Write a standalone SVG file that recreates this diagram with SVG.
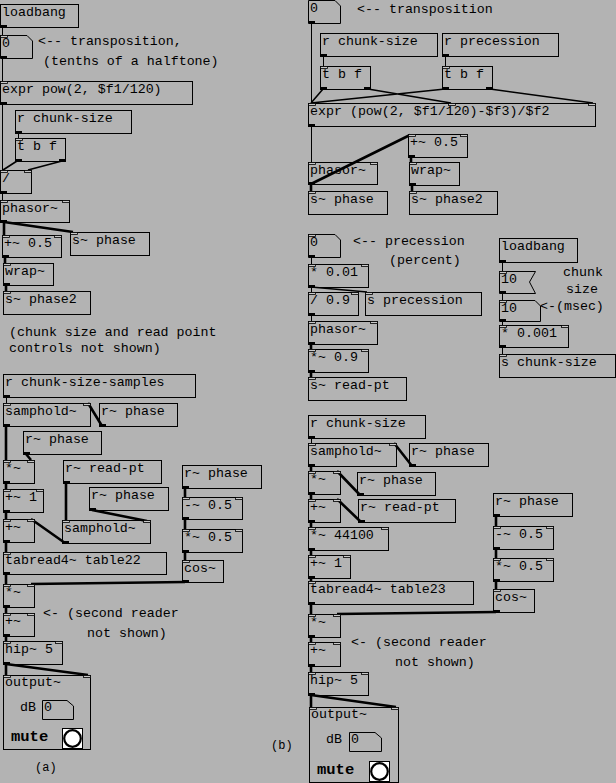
<svg xmlns="http://www.w3.org/2000/svg" width="616" height="783" viewBox="0 0 616 783">
<style>
.bg{fill:#b3b3b3}
.b{fill:none;stroke:#000;stroke-width:1}
.t{font-family:"Liberation Mono","DejaVu Sans Mono",monospace;font-size:13.3px;fill:#000}
.m{font-family:"Liberation Mono","DejaVu Sans Mono",monospace;font-size:15.5px;font-weight:bold;fill:#000}
.l{font-family:"Liberation Mono","DejaVu Sans Mono",monospace;font-size:12px;fill:#000}
.i{fill:#c8c8c8;stroke:#000;stroke-width:0.8}
.o{fill:#000}
.c{fill:none;stroke:#000;stroke-width:1}
.d{fill:none;stroke:#000;stroke-width:1.6}
.s{fill:none;stroke:#000;stroke-width:2.6}
.tg{fill:#fff;stroke:#000;stroke-width:1}
.tc{fill:#fff;stroke:#000;stroke-width:2.2}
</style>
<rect class="bg" x="0" y="0" width="616" height="783"/>

<g id="connectors">
<path class="c" d="M2.5,27V35M2.5,58V81M2.5,104V170M18.5,133V138M2.5,193V200"/>
<path class="d" d="M17,161L3,170M62,161L28,170"/>
<path class="s" d="M4,222V235M4,222L73,232M5,257V263M6,285V291"/>
<path class="c" d="M6.5,397V403"/>
<path class="s" d="M6,426V460M102,426L88,403M26,454L31,460M6,483V489M6,512V519M66,483V520M92,510L147,521M65,543L31,519M6,542V552M6,575V584M185,488V497M185,519V529M185,552V560M185,582L31,584M6,607V613M6,636V641M6,664V675M6,664L88,675"/>
<path class="c" d="M311.5,23V103M323.5,56V66M445.5,56V66M311.5,126V162"/>
<path class="d" d="M323,89L311,103M368,89L451,103M445,89L311,103M490,89L593,103"/>
<path class="s" d="M311,184V191M311,184L410,135M411,157V162M412,185V191"/>
<path class="c" d="M311.5,257V264M311.5,287V292M311.5,315V321M502.5,262V271M502.5,293V300M502.5,321V325M502.5,347V354"/>
<path class="d" d="M311,287L367,292"/>
<path class="s" d="M311,344V349M311,372V377"/>
<path class="c" d="M311.5,438V443"/>
<path class="s" d="M311,466V471M412,466L394,443M360,495L337,471M311,494V499M361,522L337,499M311,522V527M311,550V555M311,578V581M311,604V614M496,516V526M496,549V558M496,581V589M496,612L337,614M311,637V642M311,666V672M311,695V707M311,695L396,707"/>
</g>

<g id="a-loadbang"><rect class="b" x="0.5" y="4.5" width="78" height="23"/><text class="t" x="2" y="16">loadbang</text><rect class="o" x="0" y="25" width="7" height="2"/></g>
<g id="a-num-transp"><polygon class="b" points="0.5,35.5 27,35.5 32.5,41 32.5,58.5 0.5,58.5"/><text class="t" x="2" y="47">0</text><rect class="i" x="0.5" y="35.5" width="7" height="2"/><rect class="o" x="0" y="56" width="7" height="2"/></g>
<g id="a-expr"><rect class="b" x="0.5" y="81.5" width="192" height="23"/><text class="t" x="2" y="93">expr pow(2, $f1/120)</text><rect class="i" x="0.5" y="81.5" width="7" height="2"/><rect class="o" x="0" y="102" width="7" height="2"/></g>
<g id="a-r-chunk"><rect class="b" x="15.5" y="110.5" width="116" height="23"/><text class="t" x="17" y="122">r chunk-size</text><rect class="o" x="15" y="131" width="7" height="2"/></g>
<g id="a-tbf"><rect class="b" x="15.5" y="138.5" width="50" height="23"/><text class="t" x="17" y="150">t b f</text><rect class="i" x="15.5" y="138.5" width="7" height="2"/><rect class="o" x="15" y="159" width="7" height="2"/><rect class="o" x="59" y="159" width="7" height="2"/></g>
<g id="a-div"><rect class="b" x="0.5" y="170.5" width="31" height="23"/><text class="t" x="2" y="182">/</text><rect class="i" x="0.5" y="170.5" width="7" height="2"/><rect class="i" x="24.5" y="170.5" width="7" height="2"/><rect class="o" x="0" y="191" width="7" height="2"/></g>
<g id="a-phasor"><rect class="b" x="0.5" y="200.5" width="69" height="22"/><text class="t" x="2" y="212">phasor~</text><rect class="i" x="0.5" y="200.5" width="7" height="2"/><rect class="i" x="62.5" y="200.5" width="7" height="2"/><rect class="o" x="0" y="220" width="7" height="2"/></g>
<g id="a-plus05"><rect class="b" x="2.5" y="235.5" width="59" height="22"/><text class="t" x="4" y="247">+~ 0.5</text><rect class="i" x="2.5" y="235.5" width="7" height="2"/><rect class="i" x="54.5" y="235.5" width="7" height="2"/><rect class="o" x="2" y="255" width="7" height="2"/></g>
<g id="a-s-phase"><rect class="b" x="70.5" y="232.5" width="79" height="23"/><text class="t" x="72" y="244">s~ phase</text><rect class="i" x="70.5" y="232.5" width="7" height="2"/></g>
<g id="a-wrap"><rect class="b" x="3.5" y="263.5" width="50" height="22"/><text class="t" x="5" y="275">wrap~</text><rect class="i" x="3.5" y="263.5" width="7" height="2"/><rect class="o" x="3" y="283" width="7" height="2"/></g>
<g id="a-s-phase2"><rect class="b" x="3.5" y="291.5" width="87" height="23"/><text class="t" x="5" y="303">s~ phase2</text><rect class="i" x="3.5" y="291.5" width="7" height="2"/></g>
<g id="a-r-css"><rect class="b" x="3.5" y="374.5" width="192" height="23"/><text class="t" x="5" y="386">r chunk-size-samples</text><rect class="o" x="3" y="395" width="7" height="2"/></g>
<g id="a-samphold1"><rect class="b" x="3.5" y="403.5" width="87" height="23"/><text class="t" x="5" y="415">samphold~</text><rect class="i" x="3.5" y="403.5" width="7" height="2"/><rect class="i" x="83.5" y="403.5" width="7" height="2"/><rect class="o" x="3" y="424" width="7" height="2"/></g>
<g id="a-r-phase1"><rect class="b" x="99.5" y="403.5" width="78" height="23"/><text class="t" x="101" y="415">r~ phase</text><rect class="o" x="99" y="424" width="7" height="2"/></g>
<g id="a-r-phase2"><rect class="b" x="23.5" y="431.5" width="78" height="23"/><text class="t" x="25" y="443">r~ phase</text><rect class="o" x="23" y="452" width="7" height="2"/></g>
<g id="a-mul1"><rect class="b" x="3.5" y="460.5" width="31" height="23"/><text class="t" x="5" y="472">*~</text><rect class="i" x="3.5" y="460.5" width="7" height="2"/><rect class="i" x="27.5" y="460.5" width="7" height="2"/><rect class="o" x="3" y="481" width="7" height="2"/></g>
<g id="a-r-readpt"><rect class="b" x="63.5" y="460.5" width="98" height="23"/><text class="t" x="65" y="472">r~ read-pt</text><rect class="o" x="63" y="481" width="7" height="2"/></g>
<g id="a-r-phase3"><rect class="b" x="89.5" y="487.5" width="79" height="23"/><text class="t" x="91" y="499">r~ phase</text><rect class="o" x="89" y="508" width="7" height="2"/></g>
<g id="a-plus1"><rect class="b" x="3.5" y="489.5" width="40" height="23"/><text class="t" x="5" y="501">+~ 1</text><rect class="i" x="3.5" y="489.5" width="7" height="2"/><rect class="i" x="36.5" y="489.5" width="7" height="2"/><rect class="o" x="3" y="510" width="7" height="2"/></g>
<g id="a-plus2"><rect class="b" x="3.5" y="519.5" width="31" height="23"/><text class="t" x="5" y="531">+~</text><rect class="i" x="3.5" y="519.5" width="7" height="2"/><rect class="i" x="27.5" y="519.5" width="7" height="2"/><rect class="o" x="3" y="540" width="7" height="2"/></g>
<g id="a-samphold2"><rect class="b" x="62.5" y="520.5" width="88" height="23"/><text class="t" x="64" y="532">samphold~</text><rect class="i" x="62.5" y="520.5" width="7" height="2"/><rect class="i" x="143.5" y="520.5" width="7" height="2"/><rect class="o" x="62" y="541" width="7" height="2"/></g>
<g id="a-tabread"><rect class="b" x="3.5" y="552.5" width="163" height="22"/><text class="t" x="5" y="564">tabread4~ table22</text><rect class="i" x="3.5" y="552.5" width="7" height="2"/><rect class="o" x="3" y="572" width="7" height="2"/></g>
<g id="a-r-phase4"><rect class="b" x="182.5" y="465.5" width="79" height="23"/><text class="t" x="184" y="477">r~ phase</text><rect class="o" x="182" y="486" width="7" height="2"/></g>
<g id="a-minus05"><rect class="b" x="182.5" y="497.5" width="60" height="22"/><text class="t" x="184" y="509">-~ 0.5</text><rect class="i" x="182.5" y="497.5" width="7" height="2"/><rect class="i" x="235.5" y="497.5" width="7" height="2"/><rect class="o" x="182" y="517" width="7" height="2"/></g>
<g id="a-mul05"><rect class="b" x="182.5" y="529.5" width="60" height="23"/><text class="t" x="184" y="541">*~ 0.5</text><rect class="i" x="182.5" y="529.5" width="7" height="2"/><rect class="i" x="235.5" y="529.5" width="7" height="2"/><rect class="o" x="182" y="550" width="7" height="2"/></g>
<g id="a-cos"><rect class="b" x="182.5" y="560.5" width="41" height="22"/><text class="t" x="184" y="572">cos~</text><rect class="i" x="182.5" y="560.5" width="7" height="2"/><rect class="o" x="182" y="580" width="7" height="2"/></g>
<g id="a-mul2"><rect class="b" x="3.5" y="584.5" width="31" height="23"/><text class="t" x="5" y="596">*~</text><rect class="i" x="3.5" y="584.5" width="7" height="2"/><rect class="i" x="27.5" y="584.5" width="7" height="2"/><rect class="o" x="3" y="605" width="7" height="2"/></g>
<g id="a-plus3"><rect class="b" x="3.5" y="613.5" width="31" height="23"/><text class="t" x="5" y="625">+~</text><rect class="i" x="3.5" y="613.5" width="7" height="2"/><rect class="i" x="27.5" y="613.5" width="7" height="2"/><rect class="o" x="3" y="634" width="7" height="2"/></g>
<g id="a-hip"><rect class="b" x="3.5" y="641.5" width="59" height="23"/><text class="t" x="5" y="653">hip~ 5</text><rect class="i" x="3.5" y="641.5" width="7" height="2"/><rect class="i" x="55.5" y="641.5" width="7" height="2"/><rect class="o" x="3" y="662" width="7" height="2"/></g>
<g id="a-output"><rect class="b" x="3.5" y="675.5" width="87" height="74"/><rect class="i" x="3.5" y="675.5" width="7" height="2"/><rect class="i" x="83.5" y="675.5" width="7" height="2"/>
<text class="t" x="5" y="686">output~</text><text class="t" x="20" y="711">dB</text>
<polygon class="b" points="42.5,700.5 67,700.5 73.5,706 73.5,719.5 42.5,719.5"/><text class="t" x="44" y="711">0</text>
<text class="m" x="11" y="741">mute</text><rect class="tg" x="62.5" y="728.5" width="20" height="20"/><circle class="tc" cx="72.5" cy="738.5" r="8.3"/></g>

<g id="a-comments">
<text class="t" x="38" y="45">&lt;-- transposition,</text>
<text class="t" x="43" y="65">(tenths of a halftone)</text>
<text class="t" x="9" y="336">(chunk size and read point</text>
<text class="t" x="9" y="352">controls not shown)</text>
<text class="t" x="43" y="617">&lt;- (second reader</text>
<text class="t" x="87" y="637">not shown)</text>
<text class="l" x="35" y="771">(a)</text>
</g>

<g id="b-num-transp"><polygon class="b" points="308.5,0.5 335,0.5 340.5,6 340.5,23.5 308.5,23.5"/><text class="t" x="310" y="12">0</text><rect class="o" x="308" y="21" width="7" height="2"/></g>
<g id="b-r-chunk"><rect class="b" x="320.5" y="33.5" width="117" height="23"/><text class="t" x="322" y="45">r chunk-size</text><rect class="o" x="320" y="54" width="7" height="2"/></g>
<g id="b-r-prec"><rect class="b" x="442.5" y="33.5" width="116" height="23"/><text class="t" x="444" y="45">r precession</text><rect class="o" x="442" y="54" width="7" height="2"/></g>
<g id="b-tbf1"><rect class="b" x="320.5" y="66.5" width="50" height="23"/><text class="t" x="322" y="78">t b f</text><rect class="i" x="320.5" y="66.5" width="7" height="2"/><rect class="o" x="320" y="87" width="7" height="2"/><rect class="o" x="364" y="87" width="7" height="2"/></g>
<g id="b-tbf2"><rect class="b" x="442.5" y="66.5" width="50" height="23"/><text class="t" x="444" y="78">t b f</text><rect class="i" x="442.5" y="66.5" width="7" height="2"/><rect class="o" x="442" y="87" width="7" height="2"/><rect class="o" x="486" y="87" width="7" height="2"/></g>
<g id="b-expr"><rect class="b" x="308.5" y="103.5" width="287" height="23"/><text class="t" x="310" y="115">expr (pow(2, $f1/120)-$f3)/$f2</text><rect class="i" x="308.5" y="103.5" width="7" height="2"/><rect class="i" x="448.5" y="103.5" width="7" height="2"/><rect class="i" x="588.5" y="103.5" width="7" height="2"/><rect class="o" x="308" y="124" width="7" height="2"/></g>
<g id="b-plus05"><rect class="b" x="408.5" y="134.5" width="59" height="23"/><text class="t" x="410" y="146">+~ 0.5</text><rect class="i" x="408.5" y="134.5" width="7" height="2"/><rect class="i" x="460.5" y="134.5" width="7" height="2"/><rect class="o" x="408" y="155" width="7" height="2"/></g>
<g id="b-phasor1"><rect class="b" x="308.5" y="162.5" width="69" height="22"/><text class="t" x="310" y="174">phasor~</text><rect class="i" x="308.5" y="162.5" width="7" height="2"/><rect class="i" x="370.5" y="162.5" width="7" height="2"/><rect class="o" x="308" y="182" width="7" height="2"/></g>
<g id="b-wrap"><rect class="b" x="409.5" y="162.5" width="50" height="23"/><text class="t" x="411" y="174">wrap~</text><rect class="i" x="409.5" y="162.5" width="7" height="2"/><rect class="o" x="409" y="183" width="7" height="2"/></g>
<g id="b-s-phase"><rect class="b" x="308.5" y="191.5" width="79" height="23"/><text class="t" x="310" y="203">s~ phase</text><rect class="i" x="308.5" y="191.5" width="7" height="2"/></g>
<g id="b-s-phase2"><rect class="b" x="409.5" y="191.5" width="88" height="23"/><text class="t" x="411" y="203">s~ phase2</text><rect class="i" x="409.5" y="191.5" width="7" height="2"/></g>
<g id="b-num-prec"><polygon class="b" points="308.5,234.5 335,234.5 340.5,240 340.5,257.5 308.5,257.5"/><text class="t" x="310" y="246">0</text><rect class="i" x="308.5" y="234.5" width="7" height="2"/><rect class="o" x="308" y="255" width="7" height="2"/></g>
<g id="b-mul001"><rect class="b" x="308.5" y="264.5" width="60" height="23"/><text class="t" x="310" y="276">* 0.01</text><rect class="i" x="308.5" y="264.5" width="7" height="2"/><rect class="i" x="361.5" y="264.5" width="7" height="2"/><rect class="o" x="308" y="285" width="7" height="2"/></g>
<g id="b-div09"><rect class="b" x="308.5" y="292.5" width="50" height="23"/><text class="t" x="310" y="304">/ 0.9</text><rect class="i" x="308.5" y="292.5" width="7" height="2"/><rect class="i" x="351.5" y="292.5" width="7" height="2"/><rect class="o" x="308" y="313" width="7" height="2"/></g>
<g id="b-s-prec"><rect class="b" x="365.5" y="292.5" width="116" height="23"/><text class="t" x="367" y="304">s precession</text><rect class="i" x="365.5" y="292.5" width="7" height="2"/></g>
<g id="b-phasor2"><rect class="b" x="308.5" y="321.5" width="69" height="23"/><text class="t" x="310" y="333">phasor~</text><rect class="i" x="308.5" y="321.5" width="7" height="2"/><rect class="i" x="370.5" y="321.5" width="7" height="2"/><rect class="o" x="308" y="342" width="7" height="2"/></g>
<g id="b-mul09"><rect class="b" x="308.5" y="349.5" width="60" height="23"/><text class="t" x="310" y="361">*~ 0.9</text><rect class="i" x="308.5" y="349.5" width="7" height="2"/><rect class="i" x="361.5" y="349.5" width="7" height="2"/><rect class="o" x="308" y="370" width="7" height="2"/></g>
<g id="b-s-readpt"><rect class="b" x="308.5" y="377.5" width="98" height="23"/><text class="t" x="310" y="389">s~ read-pt</text><rect class="i" x="308.5" y="377.5" width="7" height="2"/></g>
<g id="b-loadbang"><rect class="b" x="499.5" y="238.5" width="78" height="24"/><text class="t" x="501" y="250">loadbang</text><rect class="o" x="499" y="260" width="7" height="2"/></g>
<g id="b-num10a"><polygon class="b" points="499.5,271.5 535.5,271.5 529.5,282 535.5,293.5 499.5,293.5"/><text class="t" x="501" y="283">10</text><rect class="i" x="499.5" y="271.5" width="7" height="2"/><rect class="o" x="499" y="291" width="7" height="2"/></g>
<g id="b-num10b"><polygon class="b" points="499.5,300.5 535,300.5 540.5,306 540.5,321.5 499.5,321.5"/><text class="t" x="501" y="312">10</text><rect class="i" x="499.5" y="300.5" width="7" height="2"/><rect class="o" x="499" y="319" width="7" height="2"/></g>
<g id="b-mul0001"><rect class="b" x="499.5" y="325.5" width="69" height="22"/><text class="t" x="501" y="337">* 0.001</text><rect class="i" x="499.5" y="325.5" width="7" height="2"/><rect class="i" x="561.5" y="325.5" width="7" height="2"/><rect class="o" x="499" y="345" width="7" height="2"/></g>
<g id="b-s-chunk"><rect class="b" x="499.5" y="354.5" width="116" height="23"/><text class="t" x="501" y="366">s chunk-size</text><rect class="i" x="499.5" y="354.5" width="7" height="2"/></g>
<g id="b-r-chunk2"><rect class="b" x="308.5" y="415.5" width="117" height="23"/><text class="t" x="310" y="427">r chunk-size</text><rect class="o" x="308" y="436" width="7" height="2"/></g>
<g id="b-samphold"><rect class="b" x="308.5" y="443.5" width="88" height="23"/><text class="t" x="310" y="455">samphold~</text><rect class="i" x="308.5" y="443.5" width="7" height="2"/><rect class="i" x="389.5" y="443.5" width="7" height="2"/><rect class="o" x="308" y="464" width="7" height="2"/></g>
<g id="b-r-phase1"><rect class="b" x="409.5" y="443.5" width="79" height="23"/><text class="t" x="411" y="455">r~ phase</text><rect class="o" x="409" y="464" width="7" height="2"/></g>
<g id="b-mul1"><rect class="b" x="308.5" y="471.5" width="32" height="23"/><text class="t" x="310" y="483">*~</text><rect class="i" x="308.5" y="471.5" width="7" height="2"/><rect class="i" x="333.5" y="471.5" width="7" height="2"/><rect class="o" x="308" y="492" width="7" height="2"/></g>
<g id="b-r-phase2"><rect class="b" x="357.5" y="472.5" width="78" height="23"/><text class="t" x="359" y="484">r~ phase</text><rect class="o" x="357" y="493" width="7" height="2"/></g>
<g id="b-plus1"><rect class="b" x="308.5" y="499.5" width="32" height="23"/><text class="t" x="310" y="511">+~</text><rect class="i" x="308.5" y="499.5" width="7" height="2"/><rect class="i" x="333.5" y="499.5" width="7" height="2"/><rect class="o" x="308" y="520" width="7" height="2"/></g>
<g id="b-r-readpt"><rect class="b" x="358.5" y="499.5" width="97" height="23"/><text class="t" x="360" y="511">r~ read-pt</text><rect class="o" x="358" y="520" width="7" height="2"/></g>
<g id="b-mul44100"><rect class="b" x="308.5" y="527.5" width="80" height="23"/><text class="t" x="310" y="539">*~ 44100</text><rect class="i" x="308.5" y="527.5" width="7" height="2"/><rect class="i" x="381.5" y="527.5" width="7" height="2"/><rect class="o" x="308" y="548" width="7" height="2"/></g>
<g id="b-plusone"><rect class="b" x="308.5" y="555.5" width="42" height="23"/><text class="t" x="310" y="567">+~ 1</text><rect class="i" x="308.5" y="555.5" width="7" height="2"/><rect class="i" x="343.5" y="555.5" width="7" height="2"/><rect class="o" x="308" y="576" width="7" height="2"/></g>
<g id="b-tabread"><rect class="b" x="308.5" y="581.5" width="165" height="23"/><text class="t" x="310" y="593">tabread4~ table23</text><rect class="i" x="308.5" y="581.5" width="7" height="2"/><rect class="o" x="308" y="602" width="7" height="2"/></g>
<g id="b-r-phase3"><rect class="b" x="493.5" y="493.5" width="79" height="23"/><text class="t" x="495" y="505">r~ phase</text><rect class="o" x="493" y="514" width="7" height="2"/></g>
<g id="b-minus05"><rect class="b" x="493.5" y="526.5" width="60" height="23"/><text class="t" x="495" y="538">-~ 0.5</text><rect class="i" x="493.5" y="526.5" width="7" height="2"/><rect class="i" x="546.5" y="526.5" width="7" height="2"/><rect class="o" x="493" y="547" width="7" height="2"/></g>
<g id="b-mul05"><rect class="b" x="493.5" y="558.5" width="60" height="23"/><text class="t" x="495" y="570">*~ 0.5</text><rect class="i" x="493.5" y="558.5" width="7" height="2"/><rect class="i" x="546.5" y="558.5" width="7" height="2"/><rect class="o" x="493" y="579" width="7" height="2"/></g>
<g id="b-cos"><rect class="b" x="493.5" y="589.5" width="41" height="23"/><text class="t" x="495" y="601">cos~</text><rect class="i" x="493.5" y="589.5" width="7" height="2"/><rect class="o" x="493" y="610" width="7" height="2"/></g>
<g id="b-mul2"><rect class="b" x="308.5" y="614.5" width="32" height="23"/><text class="t" x="310" y="626">*~</text><rect class="i" x="308.5" y="614.5" width="7" height="2"/><rect class="i" x="333.5" y="614.5" width="7" height="2"/><rect class="o" x="308" y="635" width="7" height="2"/></g>
<g id="b-plus2"><rect class="b" x="308.5" y="642.5" width="32" height="24"/><text class="t" x="310" y="654">+~</text><rect class="i" x="308.5" y="642.5" width="7" height="2"/><rect class="i" x="333.5" y="642.5" width="7" height="2"/><rect class="o" x="308" y="664" width="7" height="2"/></g>
<g id="b-hip"><rect class="b" x="308.5" y="672.5" width="60" height="23"/><text class="t" x="310" y="684">hip~ 5</text><rect class="i" x="308.5" y="672.5" width="7" height="2"/><rect class="i" x="361.5" y="672.5" width="7" height="2"/><rect class="o" x="308" y="693" width="7" height="2"/></g>
<g id="b-output"><rect class="b" x="309.5" y="707.5" width="89" height="75"/><rect class="i" x="309.5" y="707.5" width="7" height="2"/><rect class="i" x="391.5" y="707.5" width="7" height="2"/>
<text class="t" x="311" y="718">output~</text><text class="t" x="326" y="743">dB</text>
<polygon class="b" points="349.5,732.5 375,732.5 381.5,738 381.5,751.5 349.5,751.5"/><text class="t" x="351" y="743">0</text>
<text class="m" x="317" y="774">mute</text><rect class="tg" x="369.5" y="761.5" width="20" height="20"/><circle class="tc" cx="379.5" cy="771.5" r="8.3"/></g>

<g id="b-comments">
<text class="t" x="357" y="13">&lt;-- transposition</text>
<text class="t" x="353" y="245">&lt;-- precession</text>
<text class="t" x="389" y="264">(percent)</text>
<text class="t" x="563" y="276">chunk</text>
<text class="t" x="566" y="293">size</text>
<text class="t" x="540" y="310">&lt;-(msec)</text>
<text class="t" x="351" y="646">&lt;- (second reader</text>
<text class="t" x="395" y="666">not shown)</text>
<text class="l" x="271" y="749">(b)</text>
</g>
</svg>
